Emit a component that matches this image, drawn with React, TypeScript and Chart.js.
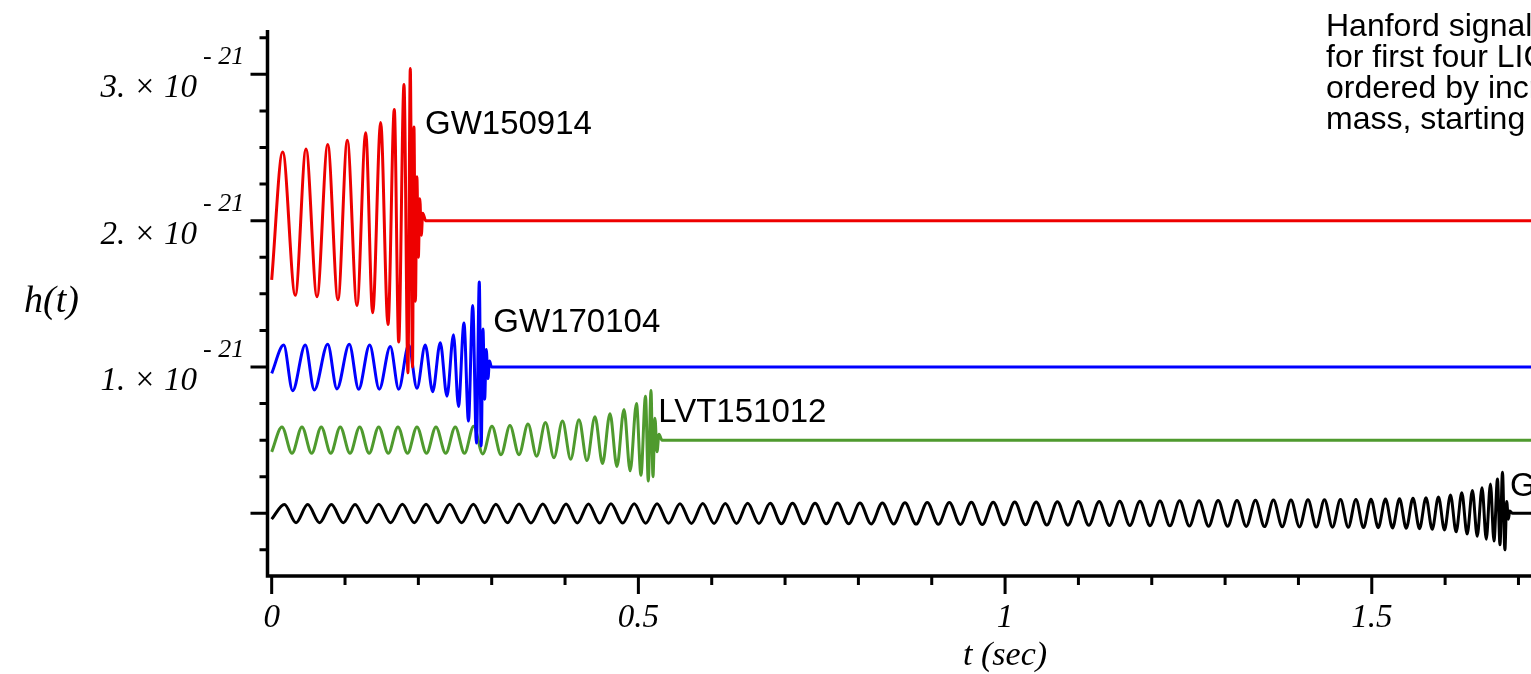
import React, { useEffect, useRef } from 'react';
import { Chart, registerables } from 'chart.js';

Chart.register(...registerables);

// ---- data (h in units of 1e-21, t in seconds); each entry is [t, h] at a peak/trough
const gw150914Red: [number, number][] = [
  [0, 1.595],
  [0.0150, 2.47], [0.0322, 1.49], [0.0468, 2.49], [0.0618, 1.48], [0.0764, 2.52], [0.0904, 1.46],
  [0.1031, 2.55], [0.1163, 1.42], [0.1282, 2.60], [0.1377, 1.37], [0.1486, 2.67], [0.1586, 1.29],
  [0.1672, 2.76], [0.1732, 1.17], [0.1804, 2.93], [0.1858, 0.96], [0.1890, 3.04], [0.1920, 1.0],
  [0.1940, 2.64], [0.1960, 1.45], [0.1980, 2.3], [0.2000, 1.75], [0.2020, 2.15], [0.2040, 1.9],
  [0.2060, 2.05], [0.2100, 2.0], [1.7400, 2.0],
];

const gw170104Blue: [number, number][] = [
  [0, 0.956],
  [0.0164, 1.15], [0.0286, 0.838], [0.0458, 1.15], [0.0581, 0.843], [0.0764, 1.155], [0.0890, 0.85],
  [0.1058, 1.155], [0.1186, 0.848], [0.1336, 1.15], [0.1467, 0.848], [0.1617, 1.14], [0.1732, 0.848],
  [0.1868, 1.15], [0.1981, 0.854], [0.2094, 1.15], [0.2195, 0.831], [0.2299, 1.166], [0.2390, 0.80],
  [0.2479, 1.22], [0.2547, 0.73], [0.2622, 1.30], [0.2683, 0.63], [0.2741, 1.42], [0.2792, 0.48],
  [0.2831, 1.58], [0.2857, 0.46], [0.2881, 1.26], [0.2904, 0.78], [0.2926, 1.12], [0.2949, 0.92],
  [0.2970, 1.04], [0.2997, 1.0], [1.7400, 1.0],
];

const lvt151012Green: [number, number][] = [
  [0, 0.42],
  [0.0140, 0.59], [0.0277, 0.41], [0.0413, 0.59], [0.0545, 0.41], [0.0676, 0.59], [0.0806, 0.41],
  [0.0935, 0.59], [0.1068, 0.41], [0.1200, 0.59], [0.1329, 0.41], [0.1459, 0.59], [0.1590, 0.41],
  [0.1722, 0.59], [0.1852, 0.41], [0.1981, 0.59], [0.2111, 0.41], [0.2240, 0.59], [0.2373, 0.41],
  [0.2503, 0.59], [0.2629, 0.41], [0.2754, 0.595], [0.2878, 0.405], [0.3004, 0.595], [0.3127, 0.40],
  [0.3249, 0.60], [0.3372, 0.40], [0.3495, 0.61], [0.3613, 0.39], [0.3733, 0.62], [0.3849, 0.38],
  [0.3965, 0.63], [0.4077, 0.37], [0.4190, 0.64], [0.4299, 0.36], [0.4408, 0.66], [0.4511, 0.34],
  [0.4613, 0.68], [0.4708, 0.32], [0.4804, 0.71], [0.4888, 0.29], [0.4974, 0.75], [0.5035, 0.26],
  [0.5097, 0.80], [0.5135, 0.22], [0.5172, 0.84], [0.5199, 0.25], [0.5226, 0.65], [0.5254, 0.42],
  [0.5281, 0.54], [0.5322, 0.5], [1.7400, 0.5],
];

const gw151226Black: [number, number][] = [
  [0, -0.04],
  [0.0173, 0.060], [0.0332, -0.064], [0.0491, 0.060], [0.0653, -0.064], [0.0814, 0.060], [0.0976, -0.064],
  [0.1137, 0.060], [0.1298, -0.064], [0.1459, 0.061], [0.1621, -0.064], [0.1782, 0.061], [0.1944, -0.064],
  [0.2105, 0.061], [0.2267, -0.065], [0.2428, 0.062], [0.2589, -0.065], [0.2750, 0.062], [0.2904, -0.065],
  [0.3057, 0.062], [0.3215, -0.065], [0.3373, 0.063], [0.3535, -0.066], [0.3697, 0.063], [0.3856, -0.066],
  [0.4014, 0.064], [0.4167, -0.066], [0.4320, 0.064], [0.4473, -0.067], [0.4626, 0.065], [0.4785, -0.067],
  [0.4943, 0.065], [0.5099, -0.068], [0.5255, 0.066], [0.5411, -0.068], [0.5567, 0.066], [0.5723, -0.069],
  [0.5878, 0.067], [0.6032, -0.069], [0.6185, 0.067], [0.6338, -0.070], [0.6490, 0.068], [0.6644, -0.070],
  [0.6797, 0.068], [0.6950, -0.071], [0.7102, 0.069], [0.7256, -0.071], [0.7409, 0.069], [0.7562, -0.072],
  [0.7715, 0.070], [0.7868, -0.072], [0.8021, 0.070], [0.8174, -0.073], [0.8327, 0.071], [0.8481, -0.073],
  [0.8635, 0.072], [0.8787, -0.074], [0.8939, 0.073], [0.9090, -0.075], [0.9240, 0.074], [0.9390, -0.076],
  [0.9540, 0.075], [0.9689, -0.077], [0.9838, 0.076], [0.9985, -0.078], [1.0132, 0.077], [1.0278, -0.079],
  [1.0424, 0.078], [1.0569, -0.080], [1.0713, 0.079], [1.0857, -0.081], [1.1000, 0.080], [1.1142, -0.082],
  [1.1283, 0.081], [1.1423, -0.083], [1.1563, 0.082], [1.1701, -0.084], [1.1839, 0.083], [1.1976, -0.085],
  [1.2112, 0.084], [1.2247, -0.086], [1.2381, 0.085], [1.2513, -0.087], [1.2645, 0.086], [1.2775, -0.088],
  [1.2905, 0.087], [1.3034, -0.089], [1.3162, 0.088], [1.3288, -0.090], [1.3414, 0.089], [1.3537, -0.091],
  [1.3659, 0.090], [1.3779, -0.092], [1.3898, 0.091], [1.4014, -0.093], [1.4130, 0.092], [1.4243, -0.094],
  [1.4355, 0.093], [1.4464, -0.095], [1.4573, 0.094], [1.4679, -0.096], [1.4784, 0.095], [1.4887, -0.097],
  [1.4989, 0.096], [1.5088, -0.098], [1.5187, 0.098], [1.5283, -0.100], [1.5378, 0.100], [1.5470, -0.102],
  [1.5562, 0.103], [1.5651, -0.105], [1.5739, 0.107], [1.5824, -0.109], [1.5909, 0.112], [1.5991, -0.114],
  [1.6073, 0.125], [1.6150, -0.127], [1.6227, 0.140], [1.6300, -0.142], [1.6372, 0.155], [1.6438, -0.157],
  [1.6503, 0.175], [1.6561, -0.177], [1.6618, 0.200], [1.6666, -0.190], [1.6714, 0.235], [1.6748, -0.215],
  [1.6782, 0.280], [1.6815, -0.250], [1.6840, 0.080], [1.6862, -0.040], [1.6882, 0.015], [1.6920, 0],
  [1.7400, 0],
];

const eventNames = ['GW150914', 'GW170104', 'LVT151012', 'GW151226'];

const xMajorTicks = [0, 0.5, 1, 1.5];
const xTickLabels = ['0', '0.5', '1', '1.5'];
const xMinorTicks = [0.1, 0.2, 0.3, 0.4, 0.6, 0.7, 0.8, 0.9, 1.1, 1.2, 1.3, 1.4, 1.6, 1.7];
const yMajorTicks = [0, 1, 2, 3];
const yTickMantissas = ['', '1. × 10', '2. × 10', '3. × 10'];
const yTickExponent = '- 21';
const yMinorTicks = [-0.25, 0.25, 0.5, 0.75, 1.25, 1.5, 1.75, 2.25, 2.5, 2.75, 3.25];

const noteLines = ['Hanford signals', 'for first four LIGO events,', 'ordered by increasing', 'mass, starting'];

const SERIF = '"Liberation Serif", "Times New Roman", serif';
const SANS = '"Liberation Sans", Arial, Helvetica, sans-serif';

// annotation anchors (data coords, left edge / vertical middle)
const labelAnchors: [number, number][] = [
  [0.209, 2.654],
  [0.3022, 1.299],
  [0.5271, 0.6835],
  [1.6885, 0.182],
];

const mapleAxesPlugin = {
  id: 'mapleAxes',
  afterDatasetsDraw(chart: any) {
    const { ctx, chartArea, scales } = chart;
    const xs = scales.x;
    const ys = scales.y;
    const left = chartArea.left;
    const bottom = chartArea.bottom;
    ctx.save();
    ctx.strokeStyle = '#000';
    ctx.fillStyle = '#000';
    ctx.lineCap = 'butt';

    // spines
    ctx.lineWidth = 3.5;
    ctx.beginPath();
    ctx.moveTo(left, chartArea.top);
    ctx.lineTo(left, bottom + 1.75);
    ctx.moveTo(left - 1.75, bottom);
    ctx.lineTo(chartArea.right + 2, bottom);
    ctx.stroke();

    // y ticks
    ctx.lineWidth = 3;
    ctx.beginPath();
    yMajorTicks.forEach((v) => {
      const y = ys.getPixelForValue(v);
      ctx.moveTo(left, y);
      ctx.lineTo(left - 17, y);
    });
    yMinorTicks.forEach((v) => {
      const y = ys.getPixelForValue(v);
      ctx.moveTo(left, y);
      ctx.lineTo(left - 8, y);
    });
    // x ticks
    xMajorTicks.forEach((v) => {
      const x = xs.getPixelForValue(v);
      ctx.moveTo(x, bottom);
      ctx.lineTo(x, bottom + 18);
    });
    xMinorTicks.forEach((v) => {
      const x = xs.getPixelForValue(v);
      ctx.moveTo(x, bottom);
      ctx.lineTo(x, bottom + 9);
    });
    ctx.stroke();

    // y tick labels
    yMajorTicks.forEach((v, i) => {
      const txt = yTickMantissas[i];
      if (!txt) return;
      const y = ys.getPixelForValue(v);
      ctx.font = `italic 33px ${SERIF}`;
      ctx.textAlign = 'right';
      ctx.textBaseline = 'alphabetic';
      ctx.fillText(txt, left - 70.5, y + 23);
      ctx.font = `italic 26px ${SERIF}`;
      ctx.textAlign = 'left';
      ctx.fillText(yTickExponent, left - 64.5, y - 10);
    });

    // x tick labels
    ctx.font = `italic 33px ${SERIF}`;
    ctx.textAlign = 'center';
    ctx.textBaseline = 'alphabetic';
    xMajorTicks.forEach((v, i) => {
      ctx.fillText(xTickLabels[i], xs.getPixelForValue(v), bottom + 51);
    });

    // axis titles
    ctx.font = `italic 34px ${SERIF}`;
    ctx.textAlign = 'center';
    ctx.fillText('t (sec)', xs.getPixelForValue(1), bottom + 89);
    ctx.font = `italic 38px ${SERIF}`;
    ctx.textAlign = 'left';
    ctx.fillText('h(t)', 24, 312);

    // event labels
    ctx.font = `33px ${SANS}`;
    ctx.textAlign = 'left';
    ctx.textBaseline = 'middle';
    eventNames.forEach((name, i) => {
      const [t, h] = labelAnchors[i];
      ctx.fillText(name, xs.getPixelForValue(t), ys.getPixelForValue(h));
    });

    // note at top right
    ctx.font = `32px ${SANS}`;
    ctx.textBaseline = 'alphabetic';
    noteLines.forEach((line, i) => {
      ctx.fillText(line, 1326, 36 + i * 31);
    });

    ctx.restore();
  },
};

export default function App() {
  const canvasRef = useRef<HTMLCanvasElement | null>(null);

  useEffect(() => {
    const canvas = canvasRef.current;
    if (!canvas) return;
    const toPoints = (arr: [number, number][]) => arr.map(([t, h]) => ({ x: t, y: h }));
    const mk = (label: string, arr: [number, number][], color: string) => ({
      label,
      data: toPoints(arr),
      borderColor: color,
      backgroundColor: color,
      borderWidth: 3,
      pointRadius: 0,
      fill: false,
      cubicInterpolationMode: 'monotone' as const,
    });
    const chart = new Chart(canvas, {
      type: 'line',
      data: {
        datasets: [
          mk(eventNames[0], gw150914Red, '#ee0000'),
          mk(eventNames[1], gw170104Blue, '#0000ff'),
          mk(eventNames[2], lvt151012Green, '#4f9a2e'),
          mk(eventNames[3], gw151226Black, '#000000'),
        ],
      },
      options: {
        animation: false,
        responsive: false,
        maintainAspectRatio: false,
        devicePixelRatio: 1,
        layout: { padding: { left: 267.5, right: 0, top: 30, bottom: 98 } },
        plugins: { legend: { display: false }, tooltip: { enabled: false } },
        events: [],
        scales: {
          x: { type: 'linear', min: -0.0057, max: 1.7171, display: false },
          y: { type: 'linear', min: -0.4286, max: 3.303, display: false },
        },
      },
      plugins: [mapleAxesPlugin],
    });
    return () => chart.destroy();
  }, []);

  return (
    <div style={{ position: 'absolute', left: 0, top: 0, width: 1531, height: 674, background: '#fff' }}>
      <canvas ref={canvasRef} width={1531} height={674} style={{ width: 1531, height: 674, display: 'block' }} />
    </div>
  );
}
